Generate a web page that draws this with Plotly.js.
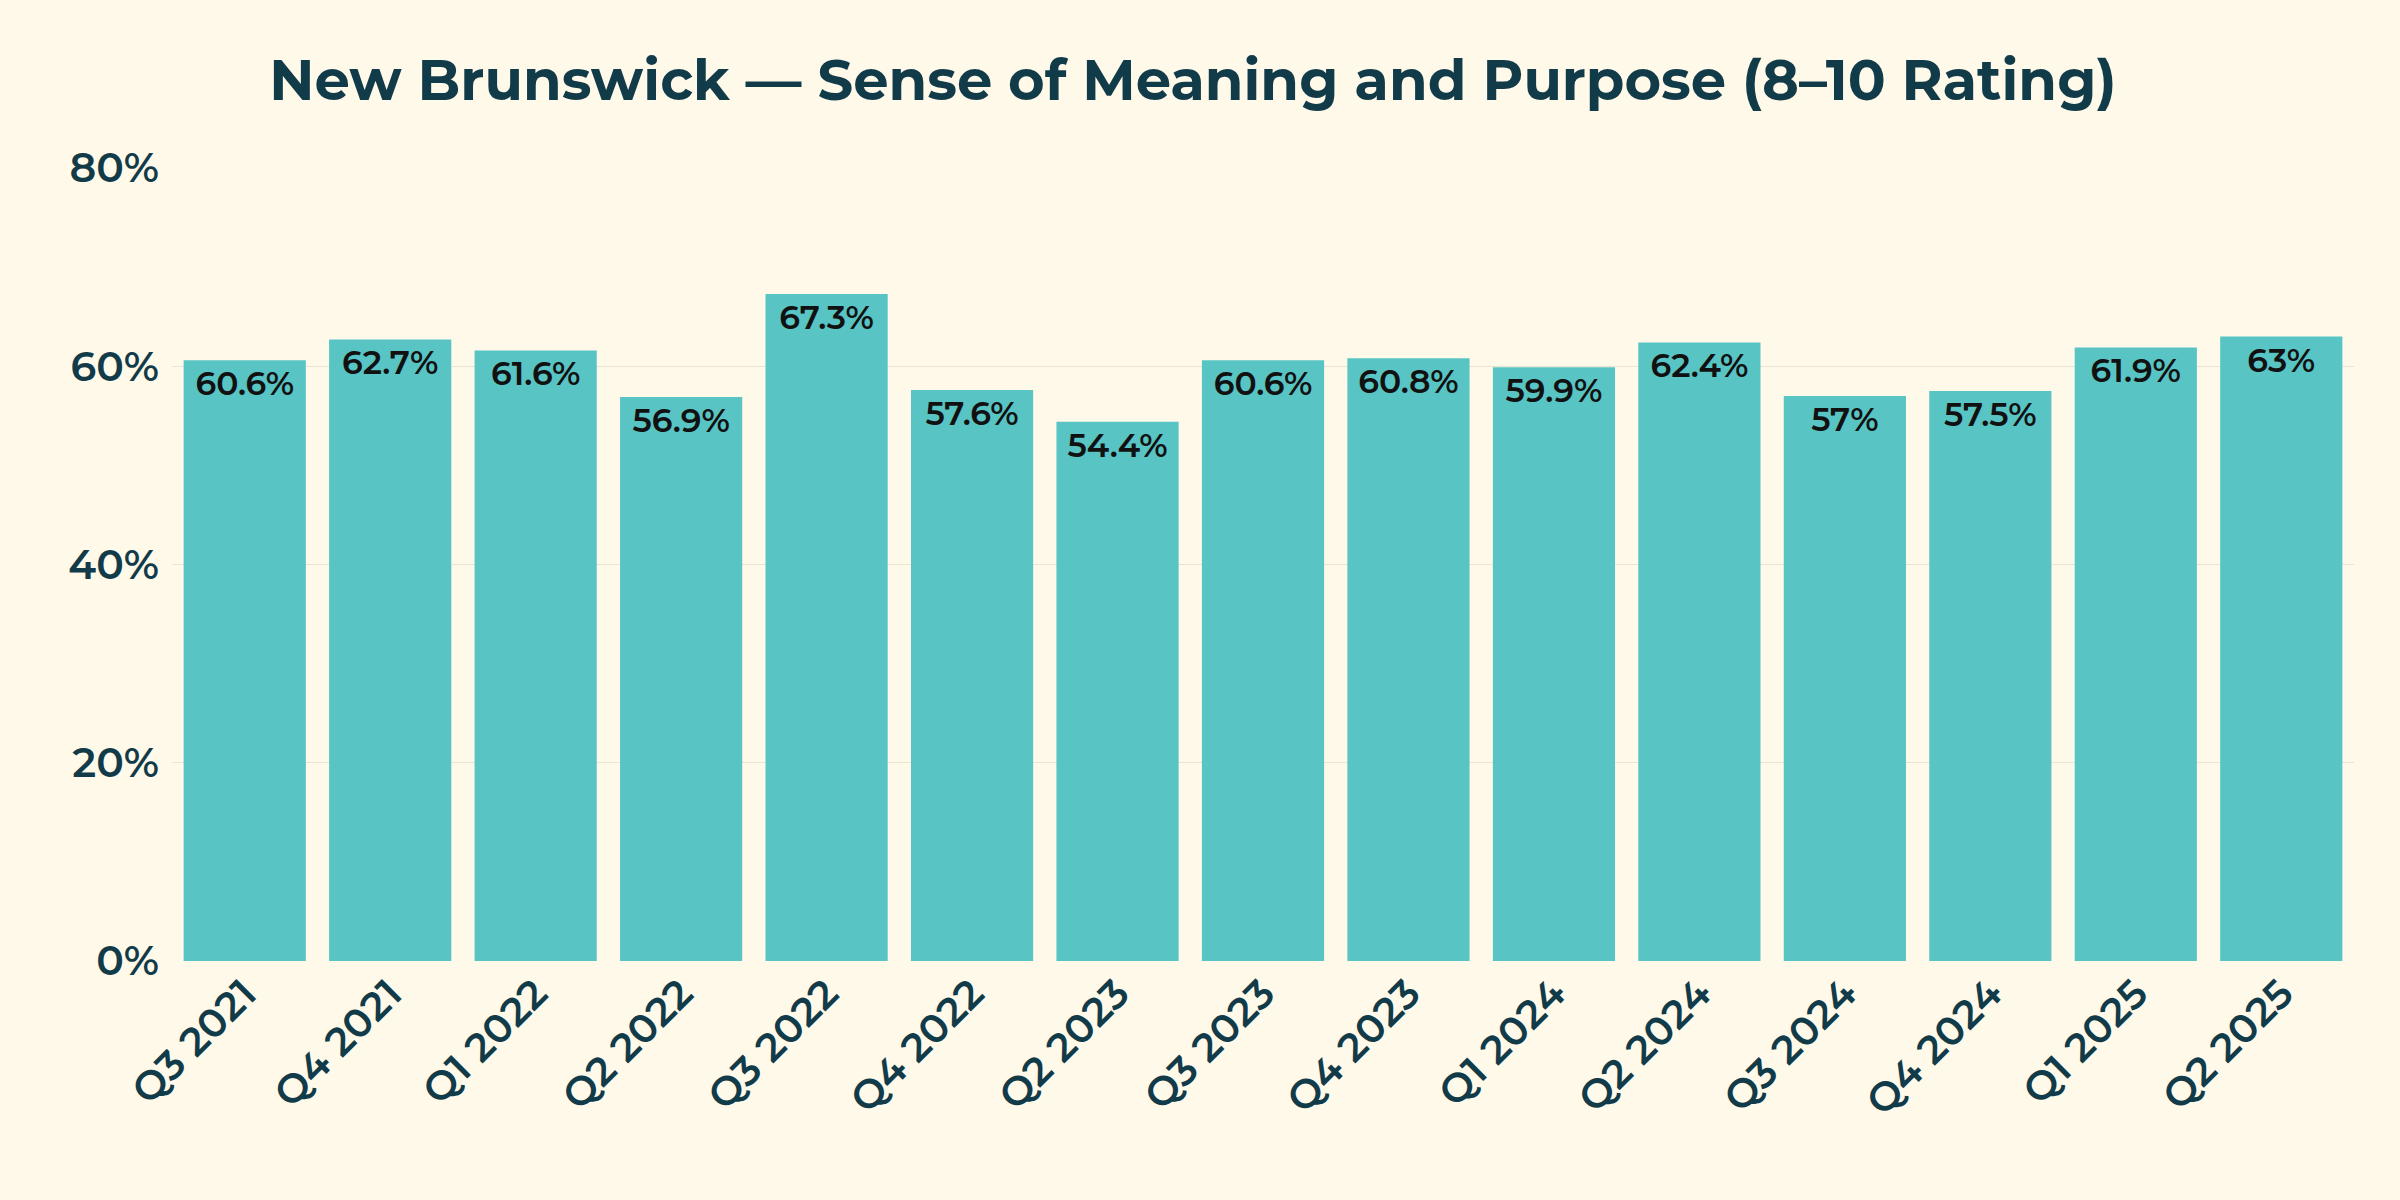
<!DOCTYPE html>
<html><head><script src="https://cdn.plot.ly/plotly-3.0.1.min.js"></script>
<style>body{margin:0;background:#FFF9E9}</style></head><body>
<div id="c" style="width:2400px;height:1200px"></div>
<script>
const categories=["Q3 2021","Q4 2021","Q1 2022","Q2 2022","Q3 2022","Q4 2022","Q2 2023","Q3 2023","Q4 2023","Q1 2024","Q2 2024","Q3 2024","Q4 2024","Q1 2025","Q2 2025"];
const values=[60.6,62.7,61.6,56.9,67.3,57.6,54.4,60.6,60.8,59.9,62.4,57,57.5,61.9,63];
const labels=values.map(v=>v+"%");
const dark="#123B4A", F="Montserrat, Inter, 'Open Sans', sans-serif";
Plotly.newPlot("c",[{type:"bar",x:categories,y:values,text:labels,textposition:"inside",insidetextanchor:"end",
 textfont:{family:F,size:33,color:"#111",weight:600},marker:{color:"#58C4C4"},hoverinfo:"none",cliponaxis:false}],
{paper_bgcolor:"#FFF9E9",plot_bgcolor:"#FFF9E9",bargap:0.16,
 title:{text:"<b>New Brunswick — Sense of Meaning and Purpose (8–10 Rating)</b>",font:{family:F,size:56,color:dark},x:0.497,xanchor:"center",y:0.933,yanchor:"middle"},
 margin:{l:172,r:46,t:168,b:239},
 xaxis:{tickangle:-45,tickfont:{family:F,size:40,color:dark,weight:600},ticks:"",showgrid:false},
 yaxis:{range:[0,80],dtick:20,ticksuffix:"%",tickfont:{family:F,size:41,color:dark,weight:600},gridcolor:"#EAE5D3",zeroline:false,ticklabelstandoff:12},
 font:{family:F},showlegend:false},{staticPlot:true});
</script></body></html>
